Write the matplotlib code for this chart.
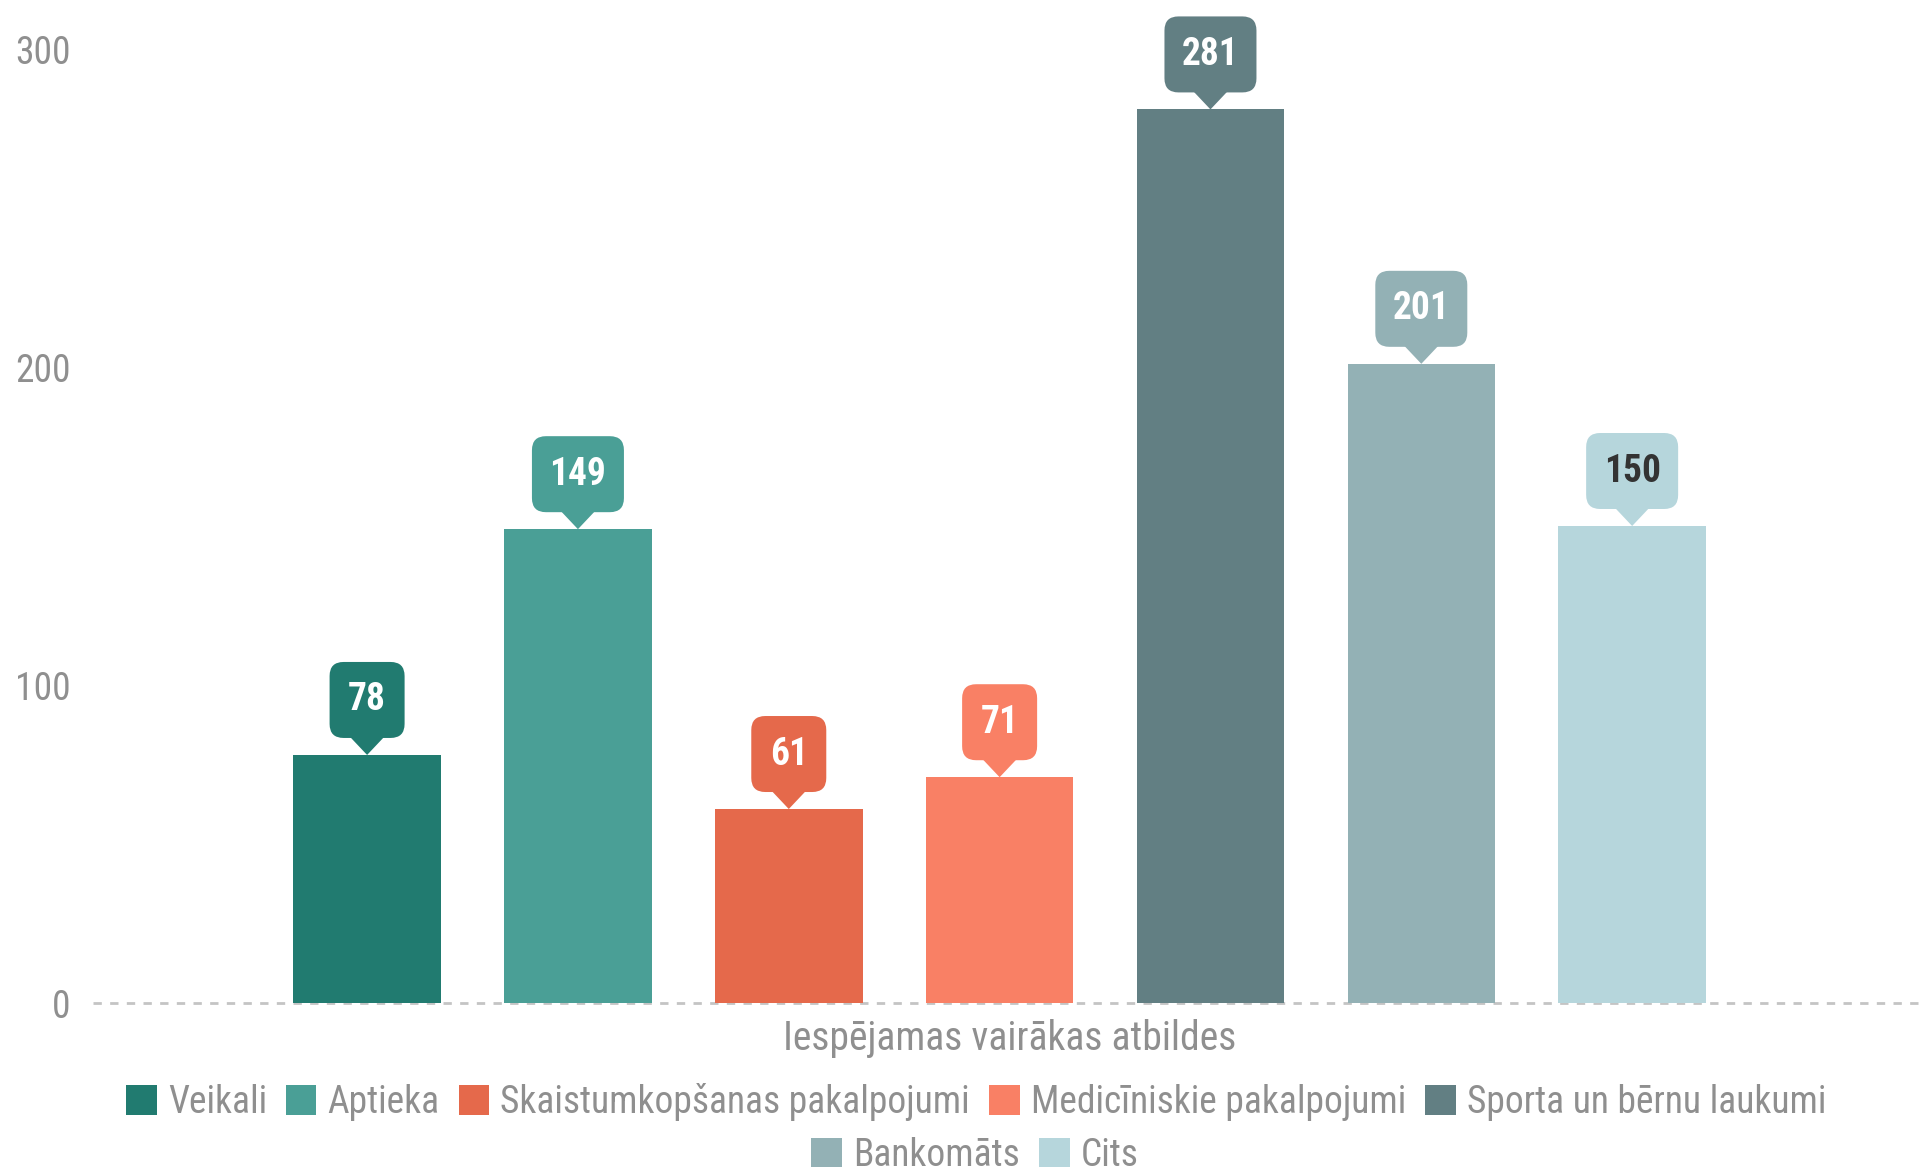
import matplotlib
matplotlib.use('Agg')
import matplotlib.pyplot as plt
import matplotlib.transforms as mtransforms
from matplotlib.patches import FancyBboxPatch, Polygon, Patch
from matplotlib import font_manager

# Chart data
categories = ['Veikali', 'Aptieka', 'Skaistumkopšanas pakalpojumi',
              'Medicīniskie pakalpojumi', 'Sporta un bērnu laukumi',
              'Bankomāts', 'Cits']
values = [78, 149, 61, 71, 281, 201, 150]
colors = ['#217b70', '#4a9f96', '#e5694b', '#f98065', '#627f83', '#93b1b5', '#b6d6dc']
label_colors = ['white', 'white', 'white', 'white', 'white', 'white', '#333333']
y_ticks = [0, 100, 200, 300]
x_title = 'Iespējamas vairākas atbildes'

names = {f.name for f in font_manager.fontManager.ttflist}
fam = [f for f in ['Roboto Condensed', 'Liberation Sans Narrow', 'Roboto'] if f in names]
plt.rcParams['font.family'] = fam + ['DejaVu Sans']

grey = '#8f8f8f'

fig = plt.figure(figsize=(19.21, 11.73), dpi=100)
ax = fig.add_axes([93 / 1921, 170 / 1173, 1 - 93 / 1921, (1003 - 49) / 1173])

x = list(range(len(values)))
ax.bar(x, values, width=0.7, color=colors, zorder=2)

ax.set_xlim(-1.30, 7.37)
ax.set_ylim(0, 300)
ax.set_yticks(y_ticks)
ax.set_xticks([])
ax.tick_params(axis='y', length=0, pad=16, labelsize=27, labelcolor=grey)
for s in ax.spines.values():
    s.set_visible(False)
ax.axhline(0, color='#c4c4c4', lw=2, ls=(0, (3, 3)), zorder=1, clip_on=False)

# callout labels above the bars, sized in pixels
for xi, v, c, tc in zip(x, values, colors, label_colors):
    anchor = mtransforms.ScaledTranslation(xi, v, ax.transData)
    tr = mtransforms.Affine2D() + anchor
    w = 92 if v >= 100 else 75
    h = 76
    base = 17
    box = FancyBboxPatch((-w / 2 + 14, base + 14), w - 28, h - 28,
                         boxstyle='round,pad=14', fc=c, ec='none',
                         transform=tr, clip_on=False, zorder=3)
    ax.add_patch(box)
    tri = Polygon([(-17, base + 1), (17, base + 1), (0, 0)], closed=True,
                  fc=c, ec='none', transform=tr, clip_on=False, zorder=3)
    ax.add_patch(tri)
    ax.text(0, base + h / 2, str(v), transform=tr, ha='center', va='center',
            fontsize=27, color=tc, fontweight='bold', zorder=4)

fig.text(1010 / 1921, 1 - 1039 / 1173, x_title, ha='center', va='center',
         fontsize=28.5, color=grey)

handles = [Patch(fc=c, ec='none') for c in colors]
leg_kw = dict(frameon=False, fontsize=27, labelcolor=grey, handlelength=0.82,
              handleheight=0.85, handletextpad=0.3, columnspacing=0.5,
              borderpad=0, borderaxespad=0)
fig.legend(handles[:5], categories[:5], ncol=5, loc='center',
           bbox_to_anchor=(976 / 1921, 1 - 1102 / 1173), **leg_kw)
fig.legend(handles[5:], categories[5:], ncol=2, loc='center',
           bbox_to_anchor=(975 / 1921, 1 - 1155 / 1173), **leg_kw)

fig.savefig('out.png', dpi=100, facecolor='white')
